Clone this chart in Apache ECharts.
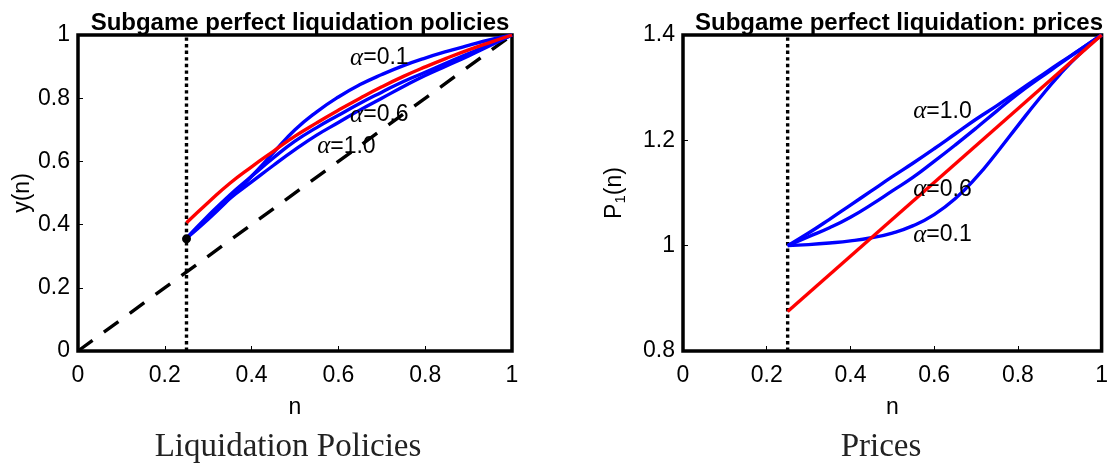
<!DOCTYPE html>
<html>
<head>
<meta charset="UTF-8">
<title>Subgame perfect liquidation</title>
<script src="https://cdn.jsdelivr.net/npm/echarts@6/dist/echarts.min.js"></script>
<style>
  html, body { margin: 0; padding: 0; background: #fff; }
  #chart { width: 1111px; height: 468px; }
</style>
</head>
<body>
<div id="chart"></div>
<script type="text/javascript">
// n grid shared by all curves
var nGrid = [0.25, 0.30, 0.35, 0.40, 0.45, 0.50, 0.55, 0.60, 0.65, 0.70, 0.75, 0.80, 0.85, 0.90, 0.95, 1.00];

// left panel: liquidation policy y(n)
var yAlpha01 = [0.357, 0.417, 0.483, 0.553, 0.627, 0.700, 0.757, 0.804, 0.843, 0.875, 0.903, 0.927, 0.948, 0.967, 0.985, 1.000];
var yAlpha06 = [0.357, 0.428, 0.494, 0.553, 0.611, 0.664, 0.707, 0.746, 0.784, 0.819, 0.853, 0.882, 0.912, 0.941, 0.970, 1.000];
var yAlpha10 = [0.357, 0.422, 0.483, 0.535, 0.587, 0.637, 0.683, 0.723, 0.763, 0.800, 0.837, 0.872, 0.903, 0.934, 0.967, 1.000];
var yRed     = [0.406, 0.470, 0.531, 0.583, 0.632, 0.680, 0.722, 0.762, 0.800, 0.836, 0.869, 0.899, 0.927, 0.953, 0.977, 1.000];
var diagLine = [[0, 0], [1, 1]];
var startDot = [[0.25, 0.355]];

// right panel: prices P1(n)
var pAlpha10 = [1.000, 1.024, 1.050, 1.077, 1.104, 1.131, 1.157, 1.184, 1.212, 1.240, 1.266, 1.293, 1.320, 1.347, 1.373, 1.400];
var pAlpha06 = [1.000, 1.017, 1.034, 1.054, 1.078, 1.104, 1.130, 1.160, 1.191, 1.223, 1.256, 1.288, 1.317, 1.345, 1.373, 1.400];
var pAlpha01 = [1.000, 1.002, 1.005, 1.009, 1.015, 1.024, 1.038, 1.059, 1.089, 1.129, 1.177, 1.228, 1.278, 1.325, 1.366, 1.400];
var pRed = [[0.25, 0.875], [1, 1.4]];

var cutoff = 0.25;

// curve labels, anchored in data coordinates
var labelsLeft = [['0.1', 0.627, 0.927], ['0.6', 0.627, 0.747], ['1.0', 0.551, 0.646]];
var labelsRight = [['1.0', 0.550, 1.254], ['0.6', 0.550, 1.106], ['0.1', 0.550, 1.020]];

function pairs(ys) {
  return nGrid.map(function (n, i) { return [n, ys[i]]; });
}

var BLUE = '#0000ff', RED = '#ff0000';
var LW = 3.4;
var sans = 'Liberation Sans, Arial, Helvetica, sans-serif';

function curve(data, color, xi) {
  return {
    type: 'line', xAxisIndex: xi, yAxisIndex: xi, data: data,
    smooth: 0.5, symbol: 'none', silent: true, animation: false,
    lineStyle: { color: color, width: LW }
  };
}

function labelSeries(list, xi) {
  return {
    type: 'scatter', xAxisIndex: xi, yAxisIndex: xi, symbolSize: 0,
    silent: true, animation: false, z: 5,
    itemStyle: { opacity: 1 },
    data: list.map(function (d) { return [d[1], d[2], d[0]]; }),
    label: {
      show: true, position: 'right', distance: 0,
      formatter: function (p) { return '{a|α}=' + p.value[2]; },
      color: '#000', fontFamily: sans, fontSize: 23,
      rich: { a: { fontFamily: 'Liberation Serif, serif', fontStyle: 'italic', fontSize: 25, color: '#000' } }
    }
  };
}

function xAxis(gi) {
  return {
    type: 'value', gridIndex: gi, min: 0, max: 1, interval: 0.2,
    name: 'n', nameLocation: 'middle', nameGap: 45,
    nameTextStyle: { color: '#000', fontFamily: sans, fontSize: 23 },
    axisLine: { show: false },
    axisTick: { inside: true, length: 5, lineStyle: { color: '#000', width: 1 } },
    axisLabel: { color: '#000', fontFamily: sans, fontSize: 23, margin: 13 },
    splitLine: { show: false }
  };
}

var myChart = echarts.init(document.getElementById('chart'));

var option = {
  backgroundColor: '#fff',
  animation: false,
  title: [
    { text: 'Subgame perfect liquidation policies', left: 295, top: 6, textAlign: 'center',
      textStyle: { fontFamily: sans, fontWeight: 'bold', fontSize: 24, color: '#000' } },
    { text: 'Subgame perfect liquidation: prices', left: 894, top: 6, textAlign: 'center',
      textStyle: { fontFamily: sans, fontWeight: 'bold', fontSize: 24, color: '#000' } },
    { text: 'Liquidation Policies', left: 283, top: 426, textAlign: 'center',
      textStyle: { fontFamily: 'Liberation Serif, serif', fontWeight: 'normal', fontSize: 33, color: '#222' } },
    { text: 'Prices', left: 876, top: 426, textAlign: 'center',
      textStyle: { fontFamily: 'Liberation Serif, serif', fontWeight: 'normal', fontSize: 33, color: '#222' } }
  ],
  grid: [
    { left: 78, top: 35, width: 434, height: 316, show: true, borderColor: '#000', borderWidth: 3.5, backgroundColor: 'transparent' },
    { left: 683, top: 35, width: 422, height: 316, show: true, borderColor: '#000', borderWidth: 3.5, backgroundColor: 'transparent' }
  ],
  xAxis: [xAxis(0), xAxis(1)],
  yAxis: [
    {
      type: 'value', gridIndex: 0, min: 0, max: 1, interval: 0.2,
      name: 'y(n)', nameLocation: 'middle', nameGap: 43,
      nameTextStyle: { color: '#000', fontFamily: sans, fontSize: 23 },
      axisLine: { show: false },
      axisTick: { inside: true, length: 5, lineStyle: { color: '#000', width: 1 } },
      axisLabel: { color: '#000', fontFamily: sans, fontSize: 23, margin: 8 },
      splitLine: { show: false }
    },
    {
      type: 'value', gridIndex: 1, min: 0.8, max: 1.4, interval: 0.2,
      name: 'P{s|1}(n)', nameLocation: 'middle', nameGap: 55,
      nameTextStyle: { color: '#000', fontFamily: sans, fontSize: 23,
        rich: { s: { fontFamily: sans, fontSize: 15, color: '#000', verticalAlign: 'bottom', padding: [12, 0, 0, 0] } } },
      axisLine: { show: false },
      axisTick: { inside: true, length: 5, lineStyle: { color: '#000', width: 1 } },
      axisLabel: { color: '#000', fontFamily: sans, fontSize: 23, margin: 8,
        formatter: function (v) { return String(Math.round(v * 10) / 10); } },
      splitLine: { show: false }
    }
  ],
  series: [
    // left panel
    {
      type: 'line', xAxisIndex: 0, yAxisIndex: 0, data: diagLine, symbol: 'none', silent: true,
      lineStyle: { color: '#000', width: LW, type: [18, 14] }
    },
    {
      type: 'line', xAxisIndex: 0, yAxisIndex: 0, data: [[cutoff, 0], [cutoff, 1]], symbol: 'none', silent: true,
      lineStyle: { color: '#000', width: LW, type: [3.4, 3.2] }
    },
    curve(pairs(yAlpha01), BLUE, 0),
    curve(pairs(yAlpha06), BLUE, 0),
    curve(pairs(yAlpha10), BLUE, 0),
    curve(pairs(yRed), RED, 0),
    {
      type: 'scatter', xAxisIndex: 0, yAxisIndex: 0, data: startDot, symbol: 'circle', symbolSize: 9,
      itemStyle: { color: '#000', opacity: 1 }, silent: true, z: 4
    },
    labelSeries(labelsLeft, 0),
    // right panel
    {
      type: 'line', xAxisIndex: 1, yAxisIndex: 1, data: [[cutoff, 0.8], [cutoff, 1.4]], symbol: 'none', silent: true,
      lineStyle: { color: '#000', width: LW, type: [3.4, 3.2] }
    },
    curve(pairs(pAlpha10), BLUE, 1),
    curve(pairs(pAlpha06), BLUE, 1),
    curve(pairs(pAlpha01), BLUE, 1),
    curve(pRed, RED, 1),
    labelSeries(labelsRight, 1)
  ]
};
myChart.setOption(option);
</script>
</body>
</html>
